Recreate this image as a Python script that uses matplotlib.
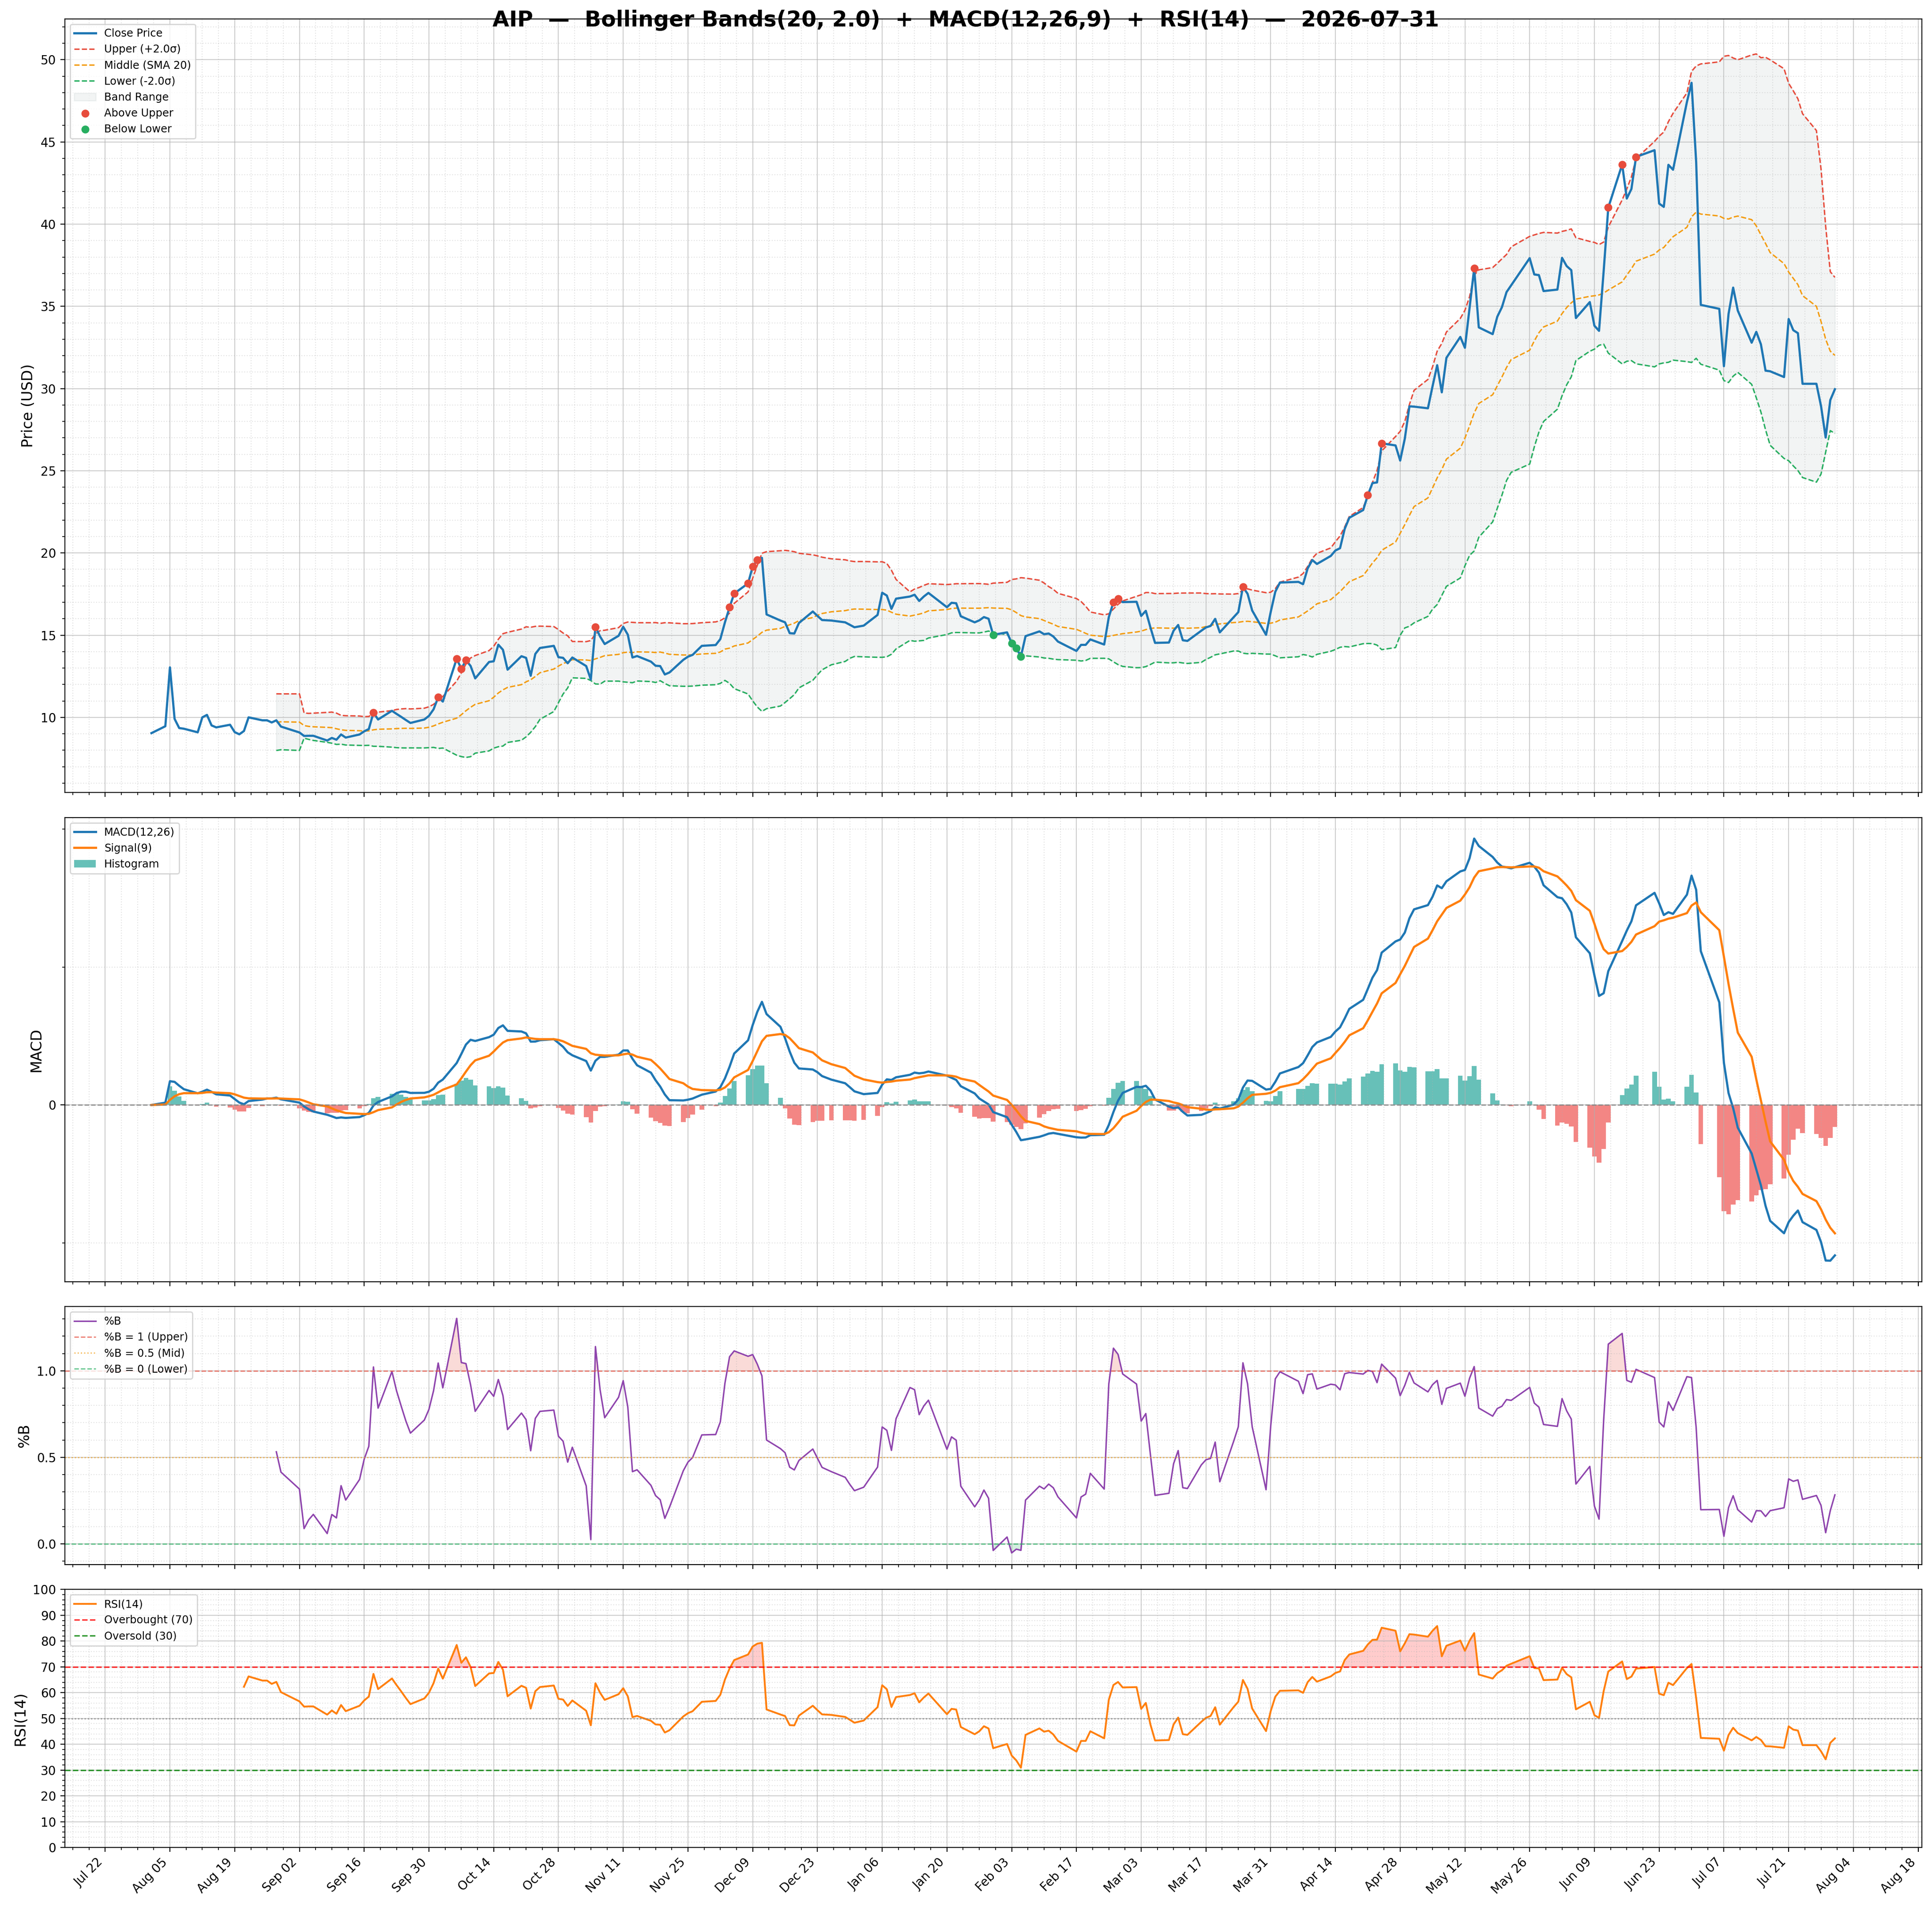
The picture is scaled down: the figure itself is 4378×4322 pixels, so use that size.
import numpy as np
import pandas as pd
import matplotlib
matplotlib.use('Agg')
import matplotlib.pyplot as plt
import matplotlib.dates as mdates
import matplotlib.ticker as mticker

symbol = 'AIP'
as_of = '2026-07-31'

# NYSE closed days inside the window
holidays = ['2025-09-01', '2025-11-27', '2025-12-25', '2026-01-01', '2026-01-19',
            '2026-02-16', '2026-04-03', '2026-05-25', '2026-06-19', '2026-07-03']

# daily closes, one list per month
close_aug = [9.04, 9.46, 13.04, 9.91, 9.35, 9.31, 9.09, 10.00, 10.15, 9.51, 9.39,
             9.55, 9.10, 8.97, 9.17, 10.00, 9.82, 9.82, 9.69, 9.82, 9.44]
close_sep = [9.08, 8.87, 8.88, 8.88, 8.59, 8.75, 8.64, 8.96, 8.77, 8.96, 9.15,
             9.29, 10.29, 9.87, 10.40, 10.21, 10.03, 9.84, 9.66, 9.87, 10.09]
close_oct = [10.49, 11.22, 10.96, 13.57, 12.95, 13.48, 13.13, 12.37, 13.37, 13.41,
             14.42, 14.11, 12.90, 13.72, 13.62, 12.53, 13.86, 14.22, 14.35, 13.66,
             13.62, 13.29, 13.64]
close_nov = [13.12, 12.30, 15.51, 14.92, 14.46, 14.96, 15.51, 15.03, 13.64, 13.73,
             13.39, 13.14, 13.12, 12.61, 12.73, 13.50, 13.69, 13.80, 14.35]
close_dec = [14.40, 14.76, 15.78, 16.70, 17.53, 18.15, 19.17, 19.58, 19.70, 16.26,
             15.89, 15.78, 15.12, 15.10, 15.74, 16.44, 16.17, 15.92, 15.89, 15.78,
             15.63, 15.48]
close_jan = [15.58, 16.23, 17.58, 17.41, 16.60, 17.22, 17.35, 17.46, 17.08, 17.35,
             17.57, 16.70, 16.97, 16.94, 16.15, 15.78, 15.90, 16.10, 16.00, 15.02]
close_feb = [15.17, 14.51, 14.20, 13.71, 14.94, 15.23, 15.06, 15.10, 14.92, 14.61,
             14.04, 14.41, 14.41, 14.74, 14.43, 16.09, 17.01, 17.22, 17.01]
close_mar = [17.03, 16.17, 16.48, 15.47, 14.53, 14.55, 15.27, 15.62, 14.69, 14.65,
             15.27, 15.47, 15.56, 15.99, 15.17, 16.09, 16.40, 17.93, 17.52, 16.50,
             15.02, 16.40]
close_apr = [17.64, 18.20, 18.24, 18.10, 19.06, 19.57, 19.33, 19.82, 20.15, 20.29,
             21.46, 22.14, 22.61, 23.51, 24.25, 24.29, 26.67, 26.54, 25.62, 26.95,
             28.92]
close_may = [28.90, 28.80, 30.14, 31.42, 29.77, 31.87, 33.14, 32.48, 34.90, 37.31,
             33.72, 33.31, 34.37, 34.95, 35.87, 36.28, 37.93, 36.94, 36.90, 35.93]
close_jun = [36.02, 37.95, 37.45, 37.20, 34.29, 35.26, 33.82, 33.51, 37.15, 41.01,
             43.63, 41.56, 42.14, 44.09, 44.50, 41.25, 41.05, 43.61, 43.31, 47.43,
             48.60]
close_jul = [43.78, 35.09, 34.85, 31.36, 34.54, 36.14, 34.74, 32.79, 33.45, 32.69,
             31.09, 31.05, 30.70, 34.23, 33.55, 33.37, 30.29, 30.29, 28.93, 27.02,
             29.30, 29.96]

close = (close_aug + close_sep + close_oct + close_nov + close_dec + close_jan +
         close_feb + close_mar + close_apr + close_may + close_jun + close_jul)

dates = pd.bdate_range('2025-08-01', as_of)
dates = dates[~dates.isin(pd.to_datetime(holidays))]
s = pd.Series(close, index=dates)

# bollinger
mid = s.rolling(20).mean()
sd = s.rolling(20).std()
upper = mid + 2.0 * sd
lower = mid - 2.0 * sd
pctb = (s - lower) / (upper - lower)

# macd
macd = s.ewm(span=12, adjust=False).mean() - s.ewm(span=26, adjust=False).mean()
signal = macd.ewm(span=9, adjust=False).mean()
hist = macd - signal

# rsi (wilder)
delta = s.diff()
gain = delta.clip(lower=0).ewm(alpha=1 / 14, adjust=False, min_periods=14).mean()
loss = (-delta.clip(upper=0)).ewm(alpha=1 / 14, adjust=False, min_periods=14).mean()
rsi = 100 - 100 / (1 + gain / loss)

W, H = 4378, 4322
fig = plt.figure(figsize=(W / 200, H / 200), dpi=200)
gs = fig.add_gridspec(4, 1, height_ratios=[3, 1.8, 1, 1],
                      left=146.7 / W, right=4354.5 / W,
                      top=1 - 42.5 / H, bottom=1 - 4187 / H, hspace=0.0567)
ax1 = fig.add_subplot(gs[0])
ax2 = fig.add_subplot(gs[1], sharex=ax1)
ax3 = fig.add_subplot(gs[2], sharex=ax1)
ax4 = fig.add_subplot(gs[3], sharex=ax1)
LEG = 8.7

# --- price + bands
ax1.plot(dates, s, color='#1f77b4', lw=1.8, label='Close Price', zorder=3)
ax1.plot(dates, upper, color='#e74c3c', ls='--', lw=1.15, label='Upper (+2.0σ)')
ax1.plot(dates, mid, color='#f39c12', ls='--', lw=1.15, label='Middle (SMA 20)')
ax1.plot(dates, lower, color='#27ae60', ls='--', lw=1.15, label='Lower (-2.0σ)')
ax1.fill_between(dates, lower, upper, color='#95a5a6', alpha=0.12, label='Band Range')
above = (s > upper).values
below = (s < lower).values
ax1.scatter(dates[above], s[above], color='#e74c3c', s=30, zorder=5, label='Above Upper')
ax1.scatter(dates[below], s[below], color='#27ae60', s=30, zorder=5, label='Below Lower')
ax1.set_ylabel('Price (USD)', fontsize=12)
ax1.legend(loc='upper left', fontsize=LEG)

# --- macd
bar_colors = np.where(hist.values >= 0, '#26a69a', '#ef5350')
ax2.bar(dates, hist, width=1.0, color=bar_colors, alpha=0.7, label='Histogram')
ax2.plot(dates, macd, color='#1f77b4', lw=1.8, label='MACD(12,26)')
ax2.plot(dates, signal, color='#ff7f0e', lw=1.8, label='Signal(9)')
ax2.axhline(0, color='gray', ls='--', lw=1, alpha=0.8)
ax2.set_ylabel('MACD', fontsize=12)
ax2.legend(loc='upper left', fontsize=LEG)

# --- %B
ax3.plot(dates, pctb, color='#8e44ad', lw=1.2, label='%B')
ax3.axhline(1, color='#e74c3c', ls='--', lw=1, alpha=0.7, label='%B = 1 (Upper)')
ax3.axhline(0.5, color='#f39c12', ls=':', lw=1, alpha=0.7, label='%B = 0.5 (Mid)')
ax3.axhline(0, color='#27ae60', ls='--', lw=1, alpha=0.7, label='%B = 0 (Lower)')
ax3.fill_between(dates, pctb, 1, where=(pctb > 1).values, color='#e74c3c', alpha=0.2, interpolate=True)
ax3.fill_between(dates, pctb, 0, where=(pctb < 0).values, color='#27ae60', alpha=0.2, interpolate=True)
ax3.set_ylabel('%B', fontsize=12)
ax3.set_yticks([0, 0.5, 1.0])
ax3.legend(loc='upper left', fontsize=LEG)

# --- rsi
ax4.plot(dates, rsi, color='#ff7f0e', lw=1.5, label='RSI(14)')
ax4.axhline(70, color='red', ls='--', lw=1.2, alpha=0.8, label='Overbought (70)')
ax4.axhline(30, color='green', ls='--', lw=1.2, alpha=0.8, label='Oversold (30)')
ax4.axhline(50, color='gray', ls=':', lw=1, alpha=0.8)
ax4.fill_between(dates, rsi, 70, where=(rsi >= 70).values, color='red', alpha=0.2, interpolate=True)
ax4.fill_between(dates, rsi, 30, where=(rsi <= 30).values, color='green', alpha=0.2, interpolate=True)
ax4.set_ylim(0, 100)
ax4.set_yticks(range(0, 101, 10))
ax4.set_ylabel('RSI(14)', fontsize=12)
ax4.legend(loc='upper left', fontsize=LEG)

ax1.yaxis.set_major_locator(mticker.MultipleLocator(5))

for ax in (ax1, ax2, ax3, ax4):
    ax.minorticks_on()
    ax.grid(True, which='major', alpha=0.6)
    ax.grid(True, which='minor', ls=':', alpha=0.35)

ax2.set_yticks([0])
ax2.yaxis.set_minor_locator(mticker.MultipleLocator(2))

ax4.set_xticks(pd.date_range('2025-07-22', '2026-08-18', freq='14D'))
ax4.xaxis.set_minor_locator(mticker.AutoMinorLocator())
ax4.xaxis.set_major_formatter(mdates.DateFormatter('%b %d'))
for ax in (ax1, ax2, ax3):
    ax.tick_params(labelbottom=False)
plt.setp(ax4.get_xticklabels(), rotation=45, ha='right')

fig.text(0.5, 1 - 60 / H,
         f'{symbol}  —  Bollinger Bands(20, 2.0)  +  MACD(12,26,9)  +  RSI(14)  —  {as_of}',
         ha='center', va='baseline', fontsize=17.6, fontweight='bold')

fig.savefig('out.png', dpi=200)
